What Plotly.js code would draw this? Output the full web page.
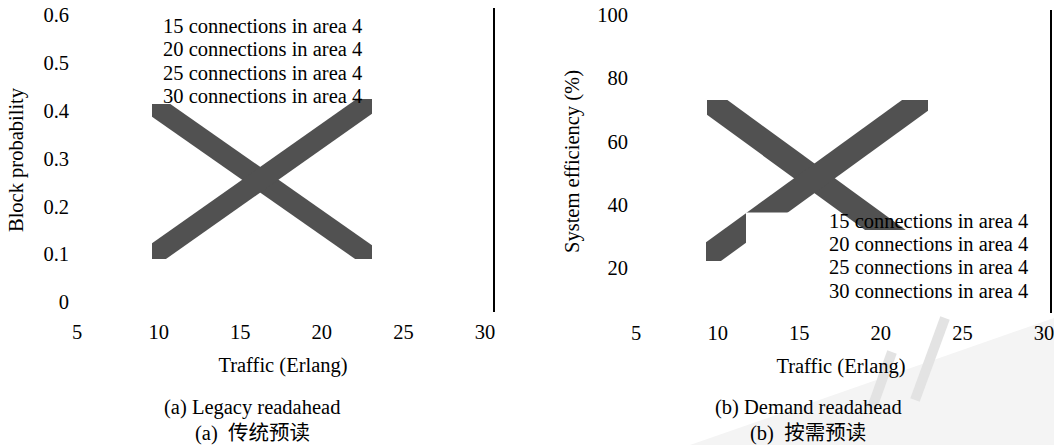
<!DOCTYPE html>
<html>
<head>
<meta charset="utf-8">
<script src="https://cdn.plot.ly/plotly-3.0.1.min.js"></script>
<style>html,body{margin:0;padding:0;background:#fff;}#chart{width:1054px;height:445px;}</style>
</head>
<body>
<div id="chart"></div>
<script>
// ---- data ----
const xTicks = [5, 10, 15, 20, 25, 30];
const yTicksA = [0, 0.1, 0.2, 0.3, 0.4, 0.5, 0.6];
const yTicksB = [20, 40, 60, 80, 100];
const seriesNames = ["15 connections in area 4", "20 connections in area 4", "25 connections in area 4", "30 connections in area 4"];
const xTitle = "Traffic (Erlang)";
const yTitleA = "Block probability";
const yTitleB = "System efficiency (%)";
const captionA = ["(a) Legacy readahead", "(a)  传统预读"];
const captionB = ["(b) Demand readahead", "(b)  按需预读"];
// broken-image placeholder cross: arm end points in unit box coordinates
const armU = [-0.25, 1.25];
const armDownV = [1.25, -0.25];
const armUpV = [-0.25, 1.25];

// ---- helpers ----
const W = 1054, H = 445;
const px = x => x / W;
const py = y => 1 - y / H;
const FONT = "Liberation Serif, Times New Roman, serif";
const FS = 20.5;
const GREY = "#515151";

const traces = [];
const layout = {
  width: W, height: H,
  margin: {l: 0, r: 0, t: 0, b: 0},
  paper_bgcolor: "#fff", plot_bgcolor: "rgba(0,0,0,0)",
  showlegend: false,
  font: {family: FONT, size: FS, color: "#000"},
  shapes: [], annotations: []
};

// faint watermark in the lower right corner
layout.shapes.push({type: "path", xref: "paper", yref: "paper", layer: "below",
  path: `M ${px(690)} ${py(445)} L ${px(1054)} ${py(318)} L ${px(1054)} ${py(445)} Z`,
  fillcolor: "#f4f4f4", line: {width: 0}});
[[[872, 408], [892, 352]], [[915, 400], [945, 318]]].forEach(s => {
  layout.shapes.push({type: "line", xref: "paper", yref: "paper", layer: "below",
    x0: px(s[0][0]), y0: py(s[0][1]), x1: px(s[1][0]), y1: py(s[1][1]),
    line: {color: "#e3e3e3", width: 10}});
});

function mainAxes(xName, yName, xPix, yPix, xRange, yRange, yTicks, yTitle, yStand) {
  layout[xName] = {
    domain: [px(xPix[0]), px(xPix[1])], range: xRange, anchor: yName.replace("axis", ""),
    tickvals: xTicks, ticks: "", showgrid: false, zeroline: false, showline: false,
    ticklabelstandoff: 5, ticklabeloverflow: "allow", fixedrange: true,
    title: {text: xTitle, standoff: 16, font: {family: FONT, size: FS}}
  };
  layout[yName] = {
    domain: [py(yPix[1]), py(yPix[0])], range: yRange, anchor: xName.replace("axis", ""),
    tickvals: yTicks, ticks: "", showgrid: false, zeroline: false, showline: false,
    ticklabelstandoff: 2, ticklabeloverflow: "allow", fixedrange: true,
    title: {text: yTitle, standoff: yStand, font: {family: FONT, size: FS}}
  };
  layout.shapes.push({type: "line", xref: xName.replace("axis", "") + " domain", yref: yName.replace("axis", "") + " domain",
    x0: 1, x1: 1, y0: 0, y1: 1, line: {color: "#000", width: 2}});
}

mainAxes("xaxis", "yaxis", [72, 494], [8, 312], [4.69, 30.55], [-0.0209, 0.6146], yTicksA, yTitleA, 14);
mainAxes("xaxis2", "yaxis2", [631, 1051], [10, 313], [4.69, 30.43], [5.77, 101.58], yTicksB, yTitleB, 12);

// empty traces so the main axes are drawn
traces.push({x: [], y: [], xaxis: "x", yaxis: "y", type: "scatter"});
traces.push({x: [], y: [], xaxis: "x2", yaxis: "y2", type: "scatter"});

let axN = 3;
function arm(spec, vArr) {
  const b = spec.box;           // [xLeft, xRight, yAtLeft, yAtRight] pixel ends of the unit line
  const xn = "xaxis" + axN, yn = "yaxis" + axN;
  const bx = b[1] - b[0];
  const yBot = Math.max(b[2], b[3]), yTop = Math.min(b[2], b[3]);
  const by = yBot - yTop;
  const r0 = (spec.c[0] - b[0]) / bx, r1 = (spec.c[1] - b[0]) / bx;
  const t0 = (yBot - spec.c[3]) / by, t1 = (yBot - spec.c[2]) / by;
  layout[xn] = {domain: [px(spec.c[0]), px(spec.c[1])], range: [r0, r1], visible: false, fixedrange: true, anchor: "y" + axN};
  layout[yn] = {domain: [py(spec.c[3]), py(spec.c[2])], range: [t0, t1], visible: false, fixedrange: true, anchor: "x" + axN};
  traces.push({x: armU, y: vArr, xaxis: "x" + axN, yaxis: "y" + axN, type: "scatter", mode: "lines",
    line: {color: GREY, width: spec.w}, hoverinfo: "skip"});
  axN++;
}

// left placeholder
arm({box: [152, 372, 104, 258], c: [152, 372, 104, 259], w: 21}, armDownV);
arm({box: [152, 372, 256, 101], c: [152, 372, 99, 259], w: 21}, armUpV);
// right placeholder (partly covered)
arm({box: [707, 928, 100, 261], c: [707, 928, 100, 230], w: 24}, armDownV);
arm({box: [706, 928, 257, 96], c: [706, 746, 100, 261], w: 24}, armUpV);
arm({box: [706, 928, 257, 96], c: [746, 928, 100, 212.5], w: 24}, armUpV);

// legends as text lists
seriesNames.forEach((n, i) => {
  layout.annotations.push({text: n, xref: "paper", yref: "paper", x: px(161), y: py(26 + 23.3 * i),
    xanchor: "left", yanchor: "middle", showarrow: false, font: {family: FONT, size: FS, color: "#000"}});
  layout.annotations.push({text: n, xref: "paper", yref: "paper", x: px(827), y: py(220.7 + 23.3 * i),
    xanchor: "left", yanchor: "middle", showarrow: false, font: {family: FONT, size: FS, color: "#000"}});
});

// captions
const capFont = {family: "Liberation Serif, Noto Sans CJK SC, serif", size: FS, color: "#000"};
[[captionA, 252], [captionB, 808]].forEach(([cap, cx]) => {
  cap.forEach((t, i) => {
    layout.annotations.push({text: t, xref: "paper", yref: "paper", x: px(cx), y: py(407 + 26 * i),
      xanchor: "center", yanchor: "middle", showarrow: false, font: capFont});
  });
});

Plotly.newPlot("chart", traces, layout, {staticPlot: true, displayModeBar: false});
</script>
</body>
</html>
